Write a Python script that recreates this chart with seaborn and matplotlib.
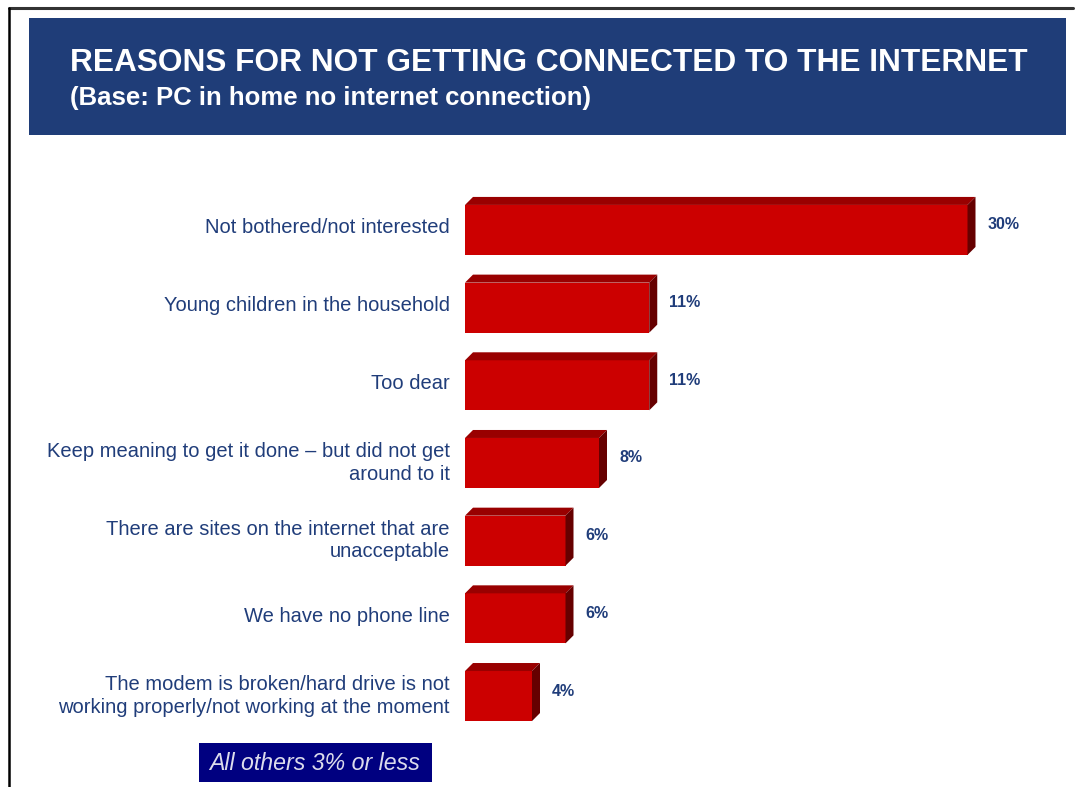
import matplotlib
matplotlib.use("Agg")
import matplotlib.pyplot as plt
import matplotlib.transforms as mtransforms
from matplotlib.patches import Polygon, Rectangle
from matplotlib.lines import Line2D
import seaborn as sns
import pandas as pd

# Survey results
reasons = [
    "Not bothered/not interested",
    "Young children in the household",
    "Too dear",
    "Keep meaning to get it done \u2013 but did not get\naround to it",
    "There are sites on the internet that are\nunacceptable",
    "We have no phone line",
    "The modem is broken/hard drive is not\nworking properly/not working at the moment",
]
shares = [30, 11, 11, 8, 6, 6, 4]
value_labels = ["30%", "11%", "11%", "8%", "6%", "6%", "4%"]

title = "REASONS FOR NOT GETTING CONNECTED TO THE INTERNET"
subtitle = "(Base: PC in home no internet connection)"
footnote = "All others 3% or less"

df = pd.DataFrame({"reason": reasons, "share": shares})

sns.set_theme(style="white")
plt.rcParams["font.family"] = ["Liberation Sans", "DejaVu Sans"]

W, H = 1078, 787
fig = plt.figure(figsize=(W / 100, H / 100), dpi=100)
fig.patch.set_facecolor("white")

FRONT = "#cc0000"
TOP = "#990000"
SIDE = "#660000"
NAVY_TEXT = "#203d7a"

# Axes placed in pixel terms
ax_left, ax_right = 465, 1068
ax_top, ax_bottom = 180, 740
ax = fig.add_axes([ax_left / W, 1 - ax_bottom / H,
                   (ax_right - ax_left) / W, (ax_bottom - ax_top) / H])

sns.barplot(data=df, x="share", y="reason", orient="h", color=FRONT,
            saturation=1, width=0.644, linewidth=0, edgecolor="none",
            ax=ax, zorder=3)
ax.set_xlim(0, 36)
ax.set_ylim(6.566, -0.643)

# Pseudo-3D depth: top and side faces offset by a fixed pixel depth
depth_px = 8
fig.canvas.draw()
to_data = ax.transData.inverted()
x0d, y0d = to_data.transform((0, 0))
x1d, y1d = to_data.transform((depth_px, depth_px))
dx = x1d - x0d
dy = y1d - y0d  # negative (inverted y axis)

for p in ax.patches:
    x, y = p.get_x(), p.get_y()
    w, h = p.get_width(), p.get_height()
    top = Polygon([(x, y), (x + w, y), (x + w + dx, y + dy), (x + dx, y + dy)],
                  closed=True, facecolor=TOP, edgecolor="none", zorder=3)
    side = Polygon([(x + w, y), (x + w + dx, y + dy),
                    (x + w + dx, y + h + dy), (x + w, y + h)],
                   closed=True, facecolor=SIDE, edgecolor="none", zorder=3)
    ax.add_patch(top)
    ax.add_patch(side)

# Value labels
for i, (v, lab) in enumerate(zip(shares, value_labels)):
    off = mtransforms.offset_copy(ax.transData, fig=fig, x=20, y=5, units="dots")
    ax.text(v, i, lab, transform=off, ha="left", va="center",
            fontsize=11.5, fontweight="bold", color=NAVY_TEXT)

ax.set_xlabel("")
ax.set_ylabel("")
ax.set_xticks([])
ax.tick_params(axis="y", length=0, pad=10.8)
for lbl in ax.get_yticklabels():
    lbl.set_fontsize(14.5)
    lbl.set_color(NAVY_TEXT)
    lbl.set_multialignment("right")
    lbl.set_linespacing(1.25)
    lbl.set_transform(lbl.get_transform() +
                      mtransforms.ScaledTranslation(0, 4 / 100, fig.dpi_scale_trans))
for s in ax.spines.values():
    s.set_visible(False)
ax.set_facecolor("none")

# Title banner
fig.patches.append(Rectangle((29 / W, 1 - 135 / H), (1066 - 29) / W, (135 - 18) / H,
                             transform=fig.transFigure, facecolor="#1f3d78",
                             edgecolor="none", zorder=0))
fig.text(70 / W, 1 - 63 / H, title, ha="left", va="center", color="white",
         fontsize=22.8, fontweight="bold")
fig.text(70 / W, 1 - 98 / H, subtitle, ha="left", va="center", color="white",
         fontsize=18.5, fontweight="bold")

# Footnote box
fig.patches.append(Rectangle((199 / W, 1 - 782 / H), (432 - 199) / W, (782 - 743) / H,
                             transform=fig.transFigure, facecolor="#000080",
                             edgecolor="none", zorder=0))
fig.text(315 / W, 1 - 763 / H, footnote, ha="center", va="center",
         color="#dcdcec", fontsize=16.7, fontstyle="italic")

# Slide frame
fig.lines.append(Line2D([9 / W, 1073 / W], [1 - 8 / H, 1 - 8 / H],
                        transform=fig.transFigure, color="#333333", lw=2.2))
fig.lines.append(Line2D([9 / W, 9 / W], [1 - 8 / H, 0],
                        transform=fig.transFigure, color="black", lw=1.8))

fig.savefig("out.png", dpi=100, facecolor="white")
